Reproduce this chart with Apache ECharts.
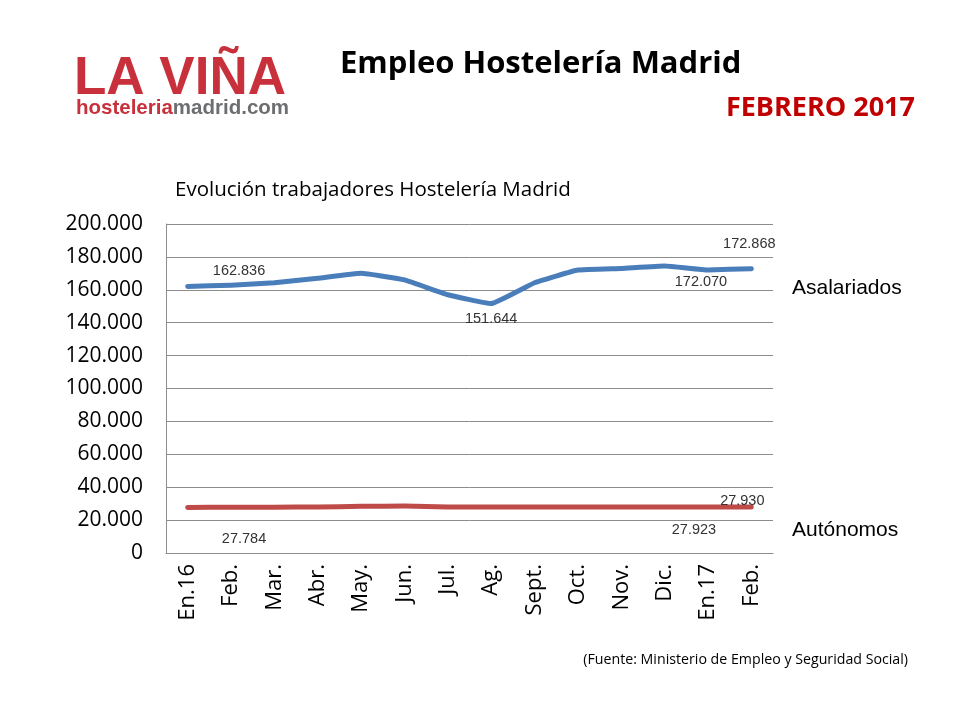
<!DOCTYPE html>
<html>
<head>
<meta charset="utf-8">
<script src="https://cdn.jsdelivr.net/npm/echarts@6/dist/echarts.min.js"></script>
<style>
html,body{margin:0;padding:0;background:#fff;}
#chart{width:960px;height:720px;}
</style>
</head>
<body>
<div id="chart"></div>
<script>
var categories = ['En.16','Feb.','Mar.','Abr.','May.','Jun.','Jul.','Ag.','Sept.','Oct.','Nov.','Dic.','En.17','Feb.'];
var asalariados = [162000,162836,164300,167000,170000,166000,157000,151644,164300,172000,173000,174500,172070,172868];
var autonomos = [27700,27784,27850,27950,28400,28500,28000,27900,27900,27900,27900,27900,27923,27930];

// which points carry a label, and where
var blueLabels = {1:{position:'top',offset:[8,-2]},7:{position:'bottom',offset:[0,3]},12:{position:'bottom',offset:[-7,0]},13:{position:'top',offset:[-2,-12]}};
var redLabels = {1:{position:'bottom',offset:[13,19]},12:{position:'bottom',offset:[-14,10]},13:{position:'top',offset:[-9,6]}};

function fmt(v){
  return String(v).replace(/\B(?=(\d{3})+(?!\d))/g,'.');
}
function buildData(values, labels){
  return values.map(function(v,i){
    var item = {value:v};
    if(labels[i]){
      item.label = {show:true, position:labels[i].position, offset:labels[i].offset};
    }
    return item;
  });
}

var chart = echarts.init(document.getElementById('chart'));
var labelStyle = {show:false, fontFamily:'Liberation Sans, Arial', fontSize:14.5, color:'#333', formatter:function(p){return fmt(p.value);}};

chart.setOption({
  animation:false,
  backgroundColor:'#fff',
  grid:{left:166, right:187, top:224, bottom:167},
  xAxis:{
    type:'category',
    data:categories,
    boundaryGap:true,
    axisLine:{show:true, lineStyle:{color:'#8c8c8c', width:1}},
    axisTick:{show:false},
    axisLabel:{rotate:90, fontFamily:'Open Sans', fontSize:22, color:'#000', margin:11, interval:0}
  },
  yAxis:{
    type:'value',
    min:0, max:200000, interval:20000,
    axisLine:{show:true, lineStyle:{color:'#8c8c8c', width:1}},
    axisTick:{show:false},
    splitLine:{show:true, lineStyle:{color:'#8c8c8c', width:1}},
    axisLabel:{fontFamily:'Open Sans', fontSize:21, color:'#000', margin:23, formatter:function(v){return fmt(v);}}
  },
  series:[
    {name:'Asalariados', type:'line', data:buildData(asalariados, blueLabels), symbol:'circle', symbolSize:0, showSymbol:true, smooth:0.1,
     lineStyle:{color:'#4a7ebb', width:5, cap:'round', join:'round'}, itemStyle:{color:'#4a7ebb'}, label:labelStyle},
    {name:'Autónomos', type:'line', data:buildData(autonomos, redLabels), symbol:'circle', symbolSize:0, showSymbol:true, smooth:0.1,
     lineStyle:{color:'#be4b48', width:5, cap:'round', join:'round'}, itemStyle:{color:'#be4b48'}, label:labelStyle}
  ],
  graphic:[
    {type:'text', left:74, top:53, style:{text:'LA VIÑA', font:'bold 53px "Liberation Sans", Arial', fill:'#c8313b'}},
    {type:'text', left:76, top:98, style:{rich:{a:{font:'bold 20.5px "Liberation Sans", Arial', fill:'#c8313b'}, b:{font:'bold 20.5px "Liberation Sans", Arial', fill:'#6d6e70'}}, text:'{a|hosteleria}{b|madrid.com}'}},
    {type:'text', left:340, top:49, style:{text:'Empleo Hostelería Madrid', font:'bold 31px "Open Sans"', fill:'#000'}},
    {type:'text', right:45, top:95, style:{text:'FEBRERO 2017', font:'bold 27px "Open Sans"', fill:'#c00000'}},
    {type:'text', left:175, top:180, style:{text:'Evolución trabajadores Hostelería Madrid', font:'20.5px "Open Sans"', fill:'#000'}},
    {type:'text', left:792, top:278, style:{text:'Asalariados', font:'21px "Liberation Sans", Arial', fill:'#000'}},
    {type:'text', left:792, top:520, style:{text:'Autónomos', font:'21px "Liberation Sans", Arial', fill:'#000'}},
    {type:'text', right:52, top:653, style:{text:'(Fuente: Ministerio de Empleo y Seguridad Social)', font:'14.2px "Open Sans"', fill:'#000'}}
  ]
});
</script>
</body>
</html>
